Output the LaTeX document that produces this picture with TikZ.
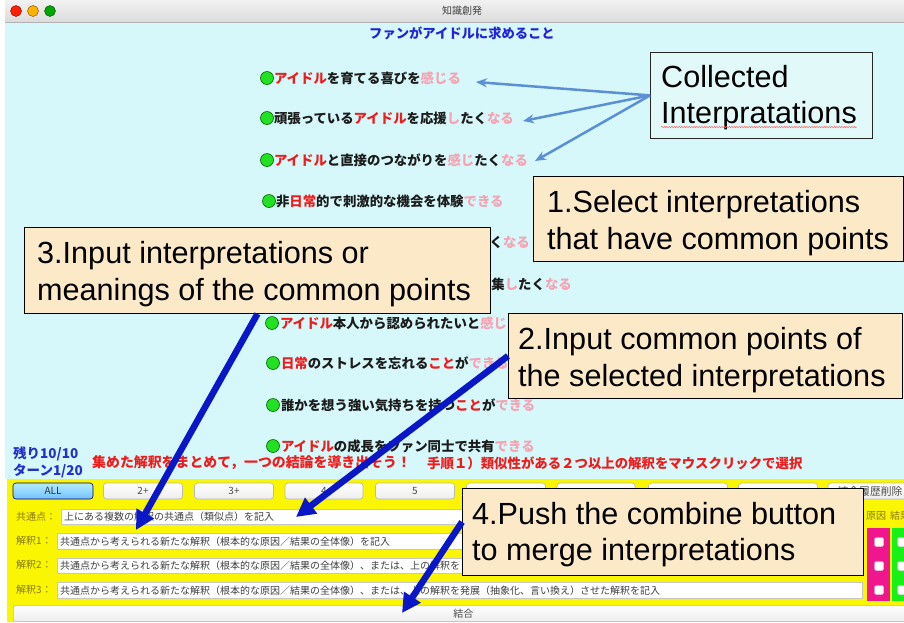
\documentclass[tikz,border=0pt]{standalone}
\usepackage{fontspec}
\setmainfont{Liberation Sans}
\newfontfamily\jp{Noto Sans CJK JP}
\usetikzlibrary{arrows.meta,decorations.pathmorphing}

\definecolor{appcyan}{HTML}{D7F8FA}
\definecolor{notefill}{HTML}{E2F9FA}
\definecolor{panelyellow}{HTML}{FAF500}
\definecolor{calloutfill}{HTML}{FCE9C8}
\definecolor{idolred}{HTML}{EE1C1C}
\definecolor{softpink}{HTML}{F5A3B3}
\definecolor{inkblack}{HTML}{1C1C1C}
\definecolor{titleblue}{HTML}{2424D6}
\definecolor{statusblue}{HTML}{2230CC}
\definecolor{pointerblue}{HTML}{5B8FD6}
\definecolor{bigblue}{HTML}{0A17C6}
\definecolor{labelolive}{HTML}{8A7A12}
\definecolor{causemag}{HTML}{F0168E}
\definecolor{effectgreen}{HTML}{18F018}
\definecolor{bulletgreen}{HTML}{22E022}

% coloured word helpers for the interpretation list
\newcommand\rd[1]{\textcolor{idolred}{#1}}
\newcommand\pk[1]{\textcolor{softpink}{#1}}

\begin{document}
\begin{tikzpicture}[x=1pt,y=-1pt,
  item/.style={anchor=west, inner sep=0pt, text=inkblack,
    font=\jp\bfseries\fontsize{13.4}{16}\selectfont},
  bullet/.style={circle, draw=green!40!black, line width=0.6pt, fill=bulletgreen,
    minimum size=13pt, inner sep=0pt},
  status/.style={anchor=west, inner sep=0pt, text=statusblue,
    font=\jp\bfseries\fontsize{13.5}{16}\selectfont},
  hint/.style={anchor=west, inner sep=0pt, text=idolred},
  callout/.style={draw=black, line width=0.9pt, fill=calloutfill, inner sep=0pt,
    anchor=north west},
  ctext/.style={anchor=base west, inner sep=0pt, text=black,
    font=\fontsize{30.6}{37}\selectfont},
  pointer/.style={draw=pointerblue, line width=2.5pt, -{Stealth[length=11pt,width=9pt]}},
  bigarrow/.style={draw=bigblue, line width=6.5pt, -{Triangle[length=19pt,width=19pt]}},
  btn/.style={draw=gray!55, rounded corners=3pt, top color=white, bottom color=gray!14,
    line width=0.6pt, minimum height=16pt, inner sep=0pt, text=black!70,
    font=\jp\fontsize{10}{12}\selectfont},
  field/.style={draw=gray!45, fill=white, line width=0.5pt, anchor=north west,
    inner sep=0pt},
  fieldtext/.style={anchor=west, inner sep=0pt, text=black!75,
    font=\jp\fontsize{10}{12}\selectfont},
  fieldlabel/.style={anchor=west, inner sep=0pt, text=labelolive,
    font=\jp\fontsize{10}{12}\selectfont},
  check/.style={fill=white, rounded corners=1.5pt, draw=gray!40, minimum size=9pt,
    inner sep=0pt},
  spell/.style={draw=red!60, line width=0.5pt, decorate,
    decoration={snake, amplitude=0.7pt, segment length=2.5pt}},
]
\useasboundingbox (0,0) rectangle (904,622);
\fill[white] (0,0) rectangle (904,622);

% window body and title bar
\fill[appcyan] (5,22) rectangle (904,479);
\shade[top color=gray!10, bottom color=gray!28] (5,0) rectangle (904,22);
\draw[gray!60, line width=0.6pt] (5,22) -- (904,22);
\node[circle, fill=red!75!orange, draw=red!50!black, line width=0.4pt, minimum size=11pt, inner sep=0] (lightR) at (16,11) {};
\node[circle, fill=orange!60!yellow, draw=orange!50!black, line width=0.4pt, minimum size=11pt, inner sep=0] (lightY) at (33,11) {};
\node[circle, fill=green!65!black, draw=green!30!black, line width=0.4pt, minimum size=11pt, inner sep=0] (lightG) at (50,11) {};
\node[inner sep=0pt, text=black!75, font=\jp\fontsize{10}{12}\selectfont] (wintitle) at (462,11) {知識創発};

% heading
\node[inner sep=0pt, text=titleblue, font=\jp\bfseries\fontsize{13.3}{16}\selectfont] (heading) at (462,33) {ファンがアイドルに求めること};

% collected interpretations
\node[bullet] (b1) at (267,78) {};
\node[item] (i1) at (b1.east) {\rd{アイドル}を育てる喜びを\pk{感じる}};
\node[bullet] (b2) at (267,118) {};
\node[item] (i2) at (b2.east) {頑張っている\rd{アイドル}を応援\pk{し}たく\pk{なる}};
\node[bullet] (b3) at (267,160) {};
\node[item] (i3) at (b3.east) {\rd{アイドル}と直接のつながりを\pk{感じ}たく\pk{なる}};
\node[bullet] (b4) at (269,201) {};
\node[item] (i4) at (b4.east) {非\rd{日常}的で刺激的な機会を体験\pk{できる}};
\node[item, anchor=east] (i5) at (530,243) {く\pk{なる}};
\node[item, anchor=east] (i6) at (572,284) {集\pk{し}たく\pk{なる}};
\node[bullet] (b7) at (272,323) {};
\node[item] (i7) at ([xshift=1pt]b7.east) {\rd{アイドル}本人から認められたいと\pk{感じ}};
\node[bullet] (b8) at (273,363) {};
\node[item] (i8) at ([xshift=1pt]b8.east) {\rd{日常}のストレスを忘れる\rd{こと}が\pk{できる}};
\node[bullet] (b9) at (273,405) {};
\node[item] (i9) at ([xshift=1pt]b9.east) {誰かを想う強い気持ちを持つ\rd{こと}が\pk{できる}};
\node[bullet] (b10) at (273,446) {};
\node[item] (i10) at ([xshift=1pt]b10.east) {\rd{アイドル}の成長をファン同士で共有\pk{できる}};

% status and instructions
\node[status] (s1) at (13,454) {残り10/10};
\node[status] (s2) at (13,471) {ターン1/20};
\node[hint, font=\jp\bfseries\fontsize{13.9}{16}\selectfont] (h1) at (92,463) {集めた解釈をまとめて，一つの結論を導き出そう！};
\node[hint, font=\jp\bfseries\fontsize{13.4}{16}\selectfont] (h2) at (427,463) {手順１）類似性がある２つ以上の解釈をマウスクリックで選択};

% input panel
\fill[panelyellow] (7,479) rectangle (904,622);
\node[btn, minimum width=80pt, draw=blue!45!black, top color=blue!25!cyan!30, bottom color=blue!45!cyan!55, text=black!80] (bAll) at (53,491) {ALL};
\node[btn, minimum width=79pt] (b2p) at (143,491) {2+};
\node[btn, minimum width=79pt] (b3p) at (234,491) {3+};
\node[btn, minimum width=78pt] (b4p) at (324,491) {4};
\node[btn, minimum width=79pt] (b5p) at (415,491) {5};
\node[btn, minimum width=79pt] (bx1) at (506,491) {};
\node[btn, minimum width=78pt] (bx2) at (596,491) {};
\node[btn, minimum width=79pt] (bx3) at (688,491) {};
\node[btn, minimum width=79pt] (bx4) at (778,491) {};
\node[btn, minimum width=84pt, font=\jp\fontsize{10.8}{12}\selectfont] (bdel) at (870,491) {結合履歴削除};

\node[fieldlabel] (l0) at (16,517) {共通点：};
\node[field, minimum width=801pt, minimum height=15pt] (f0) at (61,509) {};
\node[fieldtext] (t0) at ([xshift=3pt]f0.west) {上にある複数の解釈の共通点（類似点）を記入};
\node[fieldlabel] (l1) at (16,541) {解釈1：};
\node[field, minimum width=805pt, minimum height=16pt] (f1) at (57,533) {};
\node[fieldtext] (t1) at ([xshift=3pt]f1.west) {共通点から考えられる新たな解釈（根本的な原因／結果の全体像）を記入};
\node[fieldlabel] (l2) at (16,565) {解釈2：};
\node[field, minimum width=805pt, minimum height=15.5pt] (f2) at (57,557.5) {};
\node[fieldtext] (t2) at ([xshift=3pt]f2.west) {共通点から考えられる新たな解釈（根本的な原因／結果の全体像）、または、上の解釈を};
\node[fieldlabel] (l3) at (16,590) {解釈3：};
\node[field, minimum width=805pt, minimum height=16pt] (f3) at (57,582) {};
\node[fieldtext] (t3) at ([xshift=3pt]f3.west) {共通点から考えられる新たな解釈（根本的な原因／結果の全体像）、または、上の解釈を発展（抽象化、言い換え）させた解釈を記入};

\node[btn, rounded corners=2pt, anchor=north west, minimum width=900pt] (combine) at (13,605) {結合};

% cause / effect check columns
\node[fieldlabel] (lc) at (866,516) {原因};
\node[fieldlabel] (le) at (890,516) {結果};
\fill[causemag] (867,528) rectangle (890,601);
\fill[effectgreen] (892,528) rectangle (912,601);
\foreach \y [count=\k] in {542,566,590} {
  \node[check] (cc\k) at (879,\y) {};
  \node[check] (ce\k) at (902,\y) {};
}

% explanatory callouts
\node[draw=gray!30!black, line width=0.8pt, fill=notefill, inner sep=0pt, anchor=north west,
  minimum width=222pt, minimum height=86pt] (c0) at (650,52) {};
\node[ctext] (c0a) at (661,87) {Collected};
\node[ctext] (c0b) at (661,123) {Interpratations};
\draw[spell] ([yshift=-4pt]c0b.base west) -- ([yshift=-4pt]c0b.base east);

\node[callout, minimum width=370pt, minimum height=85pt] (c1) at (533,176) {};
\node[ctext] (c1a) at (547,212) {1.Select interpretations};
\node[ctext] (c1b) at (547,249) {that have common points};

\node[callout, minimum width=466pt, minimum height=86pt] (c3) at (24,227) {};
\node[ctext] (c3a) at (37,263) {3.Input interpretations or};
\node[ctext] (c3b) at (37,300) {meanings of the common points};

\node[callout, minimum width=394pt, minimum height=85pt] (c2) at (508,313) {};
\node[ctext] (c2a) at (518,349) {2.Input common points of};
\node[ctext] (c2b) at (518,386) {the selected interpretations};

\node[callout, minimum width=401pt, minimum height=87pt] (c4) at (462,488) {};
\node[ctext] (c4a) at (472,524) {4.Push the combine button};
\node[ctext] (c4b) at (472,560) {to merge interpretations};

% pointers
\coordinate (p1) at (476,82);
\coordinate (p2) at (523,121);
\coordinate (p3) at (535,161);
\draw[pointer] (c0.west) -- (p1);
\draw[pointer] (c0.west) -- (p2);
\draw[pointer] (c0.west) -- (p3);

\coordinate (g3) at (136,530);
\coordinate (g2) at (296,517);
\coordinate (g4) at (402,613);
\draw[bigarrow] (c3.south) -- (g3);
\draw[bigarrow] (c2.west) -- (g2);
\draw[bigarrow] ([yshift=10pt]c4.west) -- (g4);
\end{tikzpicture}
\end{document}
